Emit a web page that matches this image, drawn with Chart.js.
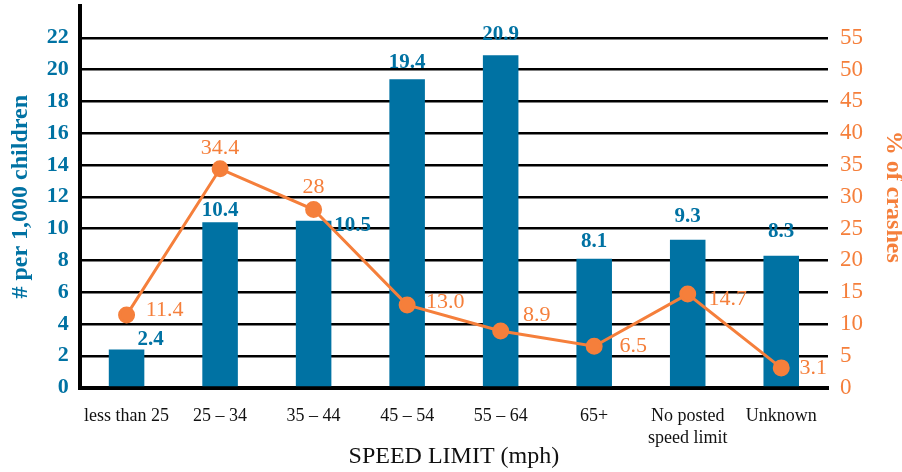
<!DOCTYPE html>
<html>
<head>
<meta charset="utf-8">
<script src="https://cdn.jsdelivr.net/npm/chart.js@4.4.1/dist/chart.umd.min.js"></script>
<style>
  html, body { margin: 0; padding: 0; background: #fff; }
  #wrap { width: 902px; height: 472px; }
</style>
</head>
<body>
<div id="wrap"><canvas id="myChart" width="902" height="472"></canvas></div>
<script>
'use strict' ;

const categories = ['less than 25', '25 – 34', '35 – 44', '45 – 54', '55 – 64', '65+', ['No posted', 'speed limit'], 'Unknown'] ;
const perChildren = [2.4, 10.4, 10.5, 19.4, 20.9, 8.1, 9.3, 8.3] ;
const pctCrashes = [11.4, 34.4, 28, 13.0, 8.9, 6.5, 14.7, 3.1] ;
const pctLabels = ['11.4', '34.4', '28', '13.0', '8.9', '6.5', '14.7', '3.1'] ;
const leftTicks = [0, 2, 4, 6, 8, 10, 12, 14, 16, 18, 20, 22] ;
const rightTicks = [0, 5, 10, 15, 20, 25, 30, 35, 40, 45, 50, 55] ;

const BLUE = '#0072a3' ;
const ORANGE = '#f57f3b' ;
const SERIF = '"Liberation Serif", "DejaVu Serif", serif' ;

// where each value label sits, relative to its bar top / point
const barLabelShift = [[24, -10], [0, -12], [39, 5], [0, -17], [0, -21], [0, -17], [0, -23], [0, -24]] ;
const lineLabelShift = [[38, -5], [0, -21], [0, -22], [38, -3], [36, -16], [39, 0], [40, 5], [32, 0]] ;

const valueLabels = {
  id: 'valueLabels',
  afterDatasetsDraw (chart)
  {
    const ctx = chart.ctx ;
    ctx.save() ;
    ctx.textAlign = 'center' ;
    ctx.textBaseline = 'middle' ;

    let bars = chart.getDatasetMeta(1).data ;
    ctx.fillStyle = BLUE ;
    ctx.font = 'bold 21px ' + SERIF ;
    for (let i = 0 ; i < bars.length ; i++)
    {
      ctx.fillText(perChildren[i].toFixed(1), bars[i].x + barLabelShift[i][0], bars[i].y + barLabelShift[i][1]) ;
    }

    let pts = chart.getDatasetMeta(0).data ;
    ctx.fillStyle = ORANGE ;
    ctx.font = '22px ' + SERIF ;
    for (let i = 0 ; i < pts.length ; i++)
    {
      ctx.fillText(pctLabels[i], pts[i].x + lineLabelShift[i][0], pts[i].y + lineLabelShift[i][1]) ;
    }
    ctx.restore() ;
  }
} ;

// no extra room above the top tick, the plot runs to the top edge
function noEdgePad (axis)
{
  axis.paddingTop = 0 ;
  axis.paddingBottom = 0 ;
}

let ctx = document.getElementById('myChart').getContext('2d') ;
let myChart = new Chart(ctx, {
  type: 'bar',
  data: {
    labels: categories,
    datasets: [
      {
        type: 'line',
        label: '% of crashes',
        data: pctCrashes,
        yAxisID: 'y1',
        borderColor: ORANGE,
        backgroundColor: ORANGE,
        borderWidth: 3,
        pointRadius: 7,
        pointHoverRadius: 7,
        tension: 0,
        order: 0
      },
      {
        label: '# per 1,000 children',
        data: perChildren,
        yAxisID: 'y',
        backgroundColor: BLUE,
        borderWidth: 0,
        barPercentage: 0.38,
        categoryPercentage: 1,
        order: 1
      }
    ]
  },
  options: {
    responsive: false,
    animation: false,
    layout: { autoPadding: false, padding: { top: 6, left: 6, right: 0, bottom: 2 } },
    plugins: {
      legend: { display: false },
      tooltip: { enabled: false }
    },
    scales: {
      x: {
        grid: { display: false, drawTicks: false },
        border: { display: true, color: '#000', width: 4 },
        ticks: {
          color: '#111',
          font: { family: SERIF, size: 18, lineHeight: 1.25 },
          padding: 17,
          maxRotation: 0,
          autoSkip: false
        },
        title: {
          display: true,
          text: 'SPEED LIMIT (mph)',
          color: '#111',
          font: { family: SERIF, size: 24, lineHeight: 1.1 },
          padding: { top: -23, bottom: 0 }
        }
      },
      y: {
        position: 'left',
        min: 0,
        max: 24,
        afterBuildTicks (axis) { axis.ticks = leftTicks.map(v => ({ value: v })) ; },
        afterFit: noEdgePad,
        grid: {
          color: ctx => (ctx.tick && ctx.tick.value === 0) ? 'rgba(0,0,0,0)' : '#000',
          lineWidth: 2.5,
          drawTicks: false
        },
        border: { display: true, color: '#000', width: 4 },
        ticks: {
          color: BLUE,
          font: { family: SERIF, size: 22, weight: 'bold' },
          padding: 11
        },
        title: {
          display: true,
          text: '# per 1,000 children',
          color: BLUE,
          font: { family: SERIF, size: 24, weight: 'bold' },
          padding: { top: 0, bottom: 1 }
        }
      },
      y1: {
        position: 'right',
        min: 0,
        max: 60,
        afterBuildTicks (axis) { axis.ticks = rightTicks.map(v => ({ value: v })) ; },
        afterFit: noEdgePad,
        grid: { display: false, drawTicks: false },
        border: { display: false },
        ticks: {
          color: ORANGE,
          font: { family: SERIF, size: 23 },
          padding: 12
        },
        title: {
          display: true,
          text: '% of crashes',
          color: ORANGE,
          font: { family: SERIF, size: 24, weight: 'bold', lineHeight: 1 },
          padding: { top: -3, bottom: 6 }
        }
      }
    }
  },
  plugins: [valueLabels]
}) ;
</script>
</body>
</html>
